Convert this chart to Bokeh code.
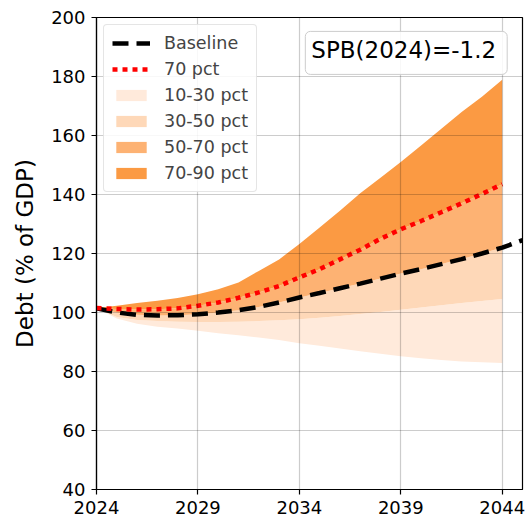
from bokeh.plotting import figure
from bokeh.models import FixedTicker, Legend, LegendItem, Label, Range1d
from bokeh.embed import file_html
from bokeh.resources import INLINE

# ---- data ----
years = list(range(2024, 2045))
baseline_years = list(range(2024, 2046))
baseline = [101.4, 100.0, 99.2, 99.0, 99.1, 99.4, 100.0, 100.8, 101.9, 103.4,
            105.1, 106.6, 108.2, 109.8, 111.5, 113.2, 114.7, 116.4, 118.1, 120.0,
            122.0, 124.5]
p10 = [101.5, 98.0, 96.2, 95.2, 94.6, 93.8, 93.0, 92.3, 91.5, 90.7, 89.6,
       88.7, 87.8, 86.9, 86.0, 85.2, 84.5, 83.9, 83.4, 83.1, 82.9]
p30 = [101.5, 98.5, 97.5, 97.1, 96.9, 96.8, 96.8, 96.9, 97.1, 97.4, 97.7,
       98.2, 98.8, 99.5, 100.2, 100.9, 101.7, 102.5, 103.2, 103.9, 104.6]
p50 = baseline[:21]
p70 = [101.5, 101.2, 101.0, 101.1, 101.4, 102.3, 103.4, 105.0, 106.8, 109.0,
       111.9, 114.7, 118.0, 121.3, 125.0, 128.2, 131.0, 134.0, 137.0, 140.2, 143.5]
p90 = [101.5, 102.3, 103.2, 104.0, 104.9, 106.2, 107.9, 110.2, 114.1, 118.0,
       123.2, 128.8, 134.5, 140.4, 145.7, 151.0, 156.6, 162.3, 168.0, 173.1, 178.9]
x_ticks = [2024, 2029, 2034, 2039, 2044]
y_ticks = [40, 60, 80, 100, 120, 140, 160, 180, 200]
band_labels = ["10-30 pct", "30-50 pct", "50-70 pct", "70-90 pct"]
band_colors = ["#ffeadb", "#fed8b8", "#fdb273", "#fb9a43"]
spb_text = "SPB(2024)=-1.2"

FONT = "DejaVu Sans"

p = figure(width=528, height=521, output_backend="svg", toolbar_location=None,
           x_range=Range1d(2024, 2045), y_range=Range1d(40, 200),
           min_border_left=96, min_border_right=6, min_border_top=17,
           min_border_bottom=32, background_fill_color="white",
           border_fill_color="white")

lows = [p10, p30, p50, p70]
highs = [p30, p50, p70, p90]
band_renderers = []
for lo, hi, c in zip(lows, highs, band_colors):
    r = p.varea(x=years, y1=lo, y2=hi, fill_color=c, fill_alpha=1.0)
    band_renderers.append(r)

r_base = p.line(baseline_years, baseline, line_color="black", line_width=4.5,
                line_dash="16 8")
r_70 = p.line(years, p70, line_color="#ff0000", line_width=4.5, line_dash="5 5")

items = [LegendItem(label="Baseline", renderers=[r_base]),
         LegendItem(label="70 pct", renderers=[r_70])]
for lab, r in zip(band_labels, band_renderers):
    items.append(LegendItem(label=lab, renderers=[r]))

legend = Legend(items=items, location="top_left", margin=7,
                label_text_font=FONT, label_text_font_size="17.5px",
                glyph_width=38, glyph_height=14, label_height=20,
                label_standoff=14, spacing=6, padding=8,
                border_line_color="#cccccc", border_line_width=1,
                background_fill_color="white", background_fill_alpha=0.85)
if "border_radius" in Legend.properties():
    legend.border_radius = 4
p.add_layout(legend)

# axes
for ax in (p.xaxis[0], p.yaxis[0]):
    ax.major_label_text_font = FONT
    ax.major_label_text_font_size = "18px"
    ax.major_label_text_color = "black"
    ax.axis_line_color = "black"
    ax.axis_line_width = 1.2
    ax.major_tick_line_color = "black"
    ax.major_tick_line_width = 1.2
    ax.major_tick_out = 5
    ax.major_tick_in = 0
    ax.minor_tick_line_color = None
p.xaxis[0].ticker = FixedTicker(ticks=x_ticks)
p.yaxis[0].ticker = FixedTicker(ticks=y_ticks)
p.xaxis[0].major_label_standoff = 6
p.yaxis[0].major_label_standoff = 6
p.yaxis[0].axis_label = "Debt (% of GDP)"
p.yaxis[0].axis_label_text_font = FONT
p.yaxis[0].axis_label_text_font_size = "23px"
p.yaxis[0].axis_label_text_font_style = "normal"
p.yaxis[0].axis_label_text_color = "black"
p.yaxis[0].axis_label_standoff = 10

p.xgrid.ticker = FixedTicker(ticks=x_ticks)
p.ygrid.ticker = FixedTicker(ticks=y_ticks)
p.grid.grid_line_color = "black"
p.grid.grid_line_alpha = 0.2
p.grid.grid_line_width = 1.2
p.grid.level = "guide"

p.outline_line_color = "black"
p.outline_line_width = 1.2
p.outline_line_alpha = 1.0

lbl = Label(x=2039.27, y=188.0, x_units="data", y_units="data", text=spb_text,
            text_align="center", text_baseline="middle", text_font=FONT,
            text_font_size="23px", text_color="black",
            border_line_color="#cccccc", border_line_width=1,
            background_fill_color="white", background_fill_alpha=0.85)
props = Label.properties()
if "padding" in props:
    lbl.padding = (6, 11, 6, 11)
if "border_radius" in props:
    lbl.border_radius = 5
p.add_layout(lbl)

open("out.html", "w").write(file_html(p, INLINE))
